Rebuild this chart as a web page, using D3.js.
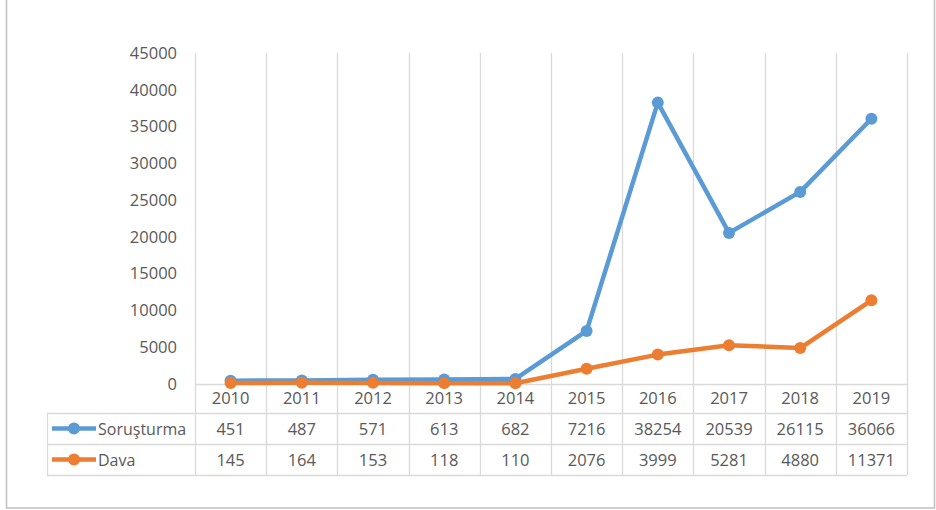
<!DOCTYPE html>
<html>
<head>
<meta charset="utf-8">
<script src="https://cdn.jsdelivr.net/npm/d3@7"></script>
<style>
  body { margin: 0; background: #fff; }
  svg text { font-family: "Open Sans", "Noto Sans", sans-serif; fill: #595959; }
</style>
</head>
<body>
<div id="chart"></div>
<script>
// data
var years = ["2010", "2011", "2012", "2013", "2014", "2015", "2016", "2017", "2018", "2019"];
var sorusturma = [451, 487, 571, 613, 682, 7216, 38254, 20539, 26115, 36066];
var dava = [145, 164, 153, 118, 110, 2076, 3999, 5281, 4880, 11371];
var seriesNames = ["Soruşturma", "Dava"];
var yTicks = [0, 5000, 10000, 15000, 20000, 25000, 30000, 35000, 40000, 45000];

var svgWidth = 936;
var svgHeight = 510;

// plot area
var plot = { left: 195, right: 907, top: 53, bottom: 384 };
var tableLeft = 47;
var rowH = 31;  // table rows
var fontSize = "16.5px";

var colors = ["#5B9BD5", "#ED7D31"];
var gridColor = "#d9d9d9";

var svg = d3.select("#chart")
  .append("svg")
  .attr("width", svgWidth)
  .attr("height", svgHeight);

// outer frame
svg.append("rect")
  .attr("x", 6.5)
  .attr("y", -5)
  .attr("width", 928)
  .attr("height", 513)
  .attr("fill", "none")
  .attr("stroke", "#bfbfbf")
  .attr("stroke-width", 1.5);

var x = d3.scaleBand()
  .domain(years)
  .range([plot.left, plot.right])
  .padding(0);

var y = d3.scaleLinear()
  .domain([0, 45000])
  .range([plot.bottom, plot.top]);

var tableTop = plot.bottom + 29;          // top of first data row
var tableBottom = tableTop + rowH * 2;

// vertical grid lines / table column separators
var bounds = years.map(function(d) { return x(d); }).concat([plot.right]);
svg.append("g")
  .selectAll("line")
  .data(bounds)
  .enter()
  .append("line")
  .attr("x1", d => Math.round(d) + 0.5)
  .attr("x2", d => Math.round(d) + 0.5)
  .attr("y1", plot.top)
  .attr("y2", tableBottom)
  .attr("stroke", gridColor)
  .attr("stroke-width", 1.3);

// left edge of the table
svg.append("line")
  .attr("x1", tableLeft + 0.5).attr("x2", tableLeft + 0.5)
  .attr("y1", tableTop).attr("y2", tableBottom)
  .attr("stroke", gridColor).attr("stroke-width", 1.3);

// x axis line
svg.append("line")
  .attr("x1", plot.left).attr("x2", plot.right)
  .attr("y1", y(0) + 0.5).attr("y2", y(0) + 0.5)
  .attr("stroke", gridColor).attr("stroke-width", 1.3);

// table horizontal lines
[0, 1, 2].forEach(function(i) {
  svg.append("line")
    .attr("x1", tableLeft).attr("x2", plot.right)
    .attr("y1", tableTop + i * rowH + 0.5).attr("y2", tableTop + i * rowH + 0.5)
    .attr("stroke", gridColor).attr("stroke-width", 1.3);
});

// y axis (labels only)
var yAxis = d3.axisLeft(y).tickValues(yTicks).tickFormat(d3.format("d")).tickSize(0).tickPadding(0);
var yAxisG = svg.append("g")
  .attr("transform", "translate(177,0)")
  .call(yAxis);
yAxisG.select(".domain").remove();
yAxisG.selectAll("text")
  .style("font-size", fontSize)
  .attr("fill", "#595959");

// year labels
svg.append("g")
  .selectAll("text")
  .data(years)
  .enter()
  .append("text")
  .attr("x", d => x(d) + x.bandwidth() / 2)
  .attr("y", plot.bottom + 20)
  .attr("text-anchor", "middle")
  .style("font-size", fontSize)
  .text(d => d);

// lines and markers
var line = d3.line()
  .x((d, i) => x(years[i]) + x.bandwidth() / 2)
  .y(d => y(d));

[sorusturma, dava].forEach(function(values, s) {
  svg.append("path")
    .datum(values)
    .attr("d", line)
    .attr("fill", "none")
    .attr("stroke", colors[s])
    .attr("stroke-width", 4.5)
    .attr("stroke-linejoin", "round");

  svg.append("g")
    .selectAll("circle")
    .data(values)
    .enter()
    .append("circle")
    .attr("cx", (d, i) => x(years[i]) + x.bandwidth() / 2)
    .attr("cy", d => y(d))
    .attr("r", 6)
    .attr("fill", colors[s]);
});

// table rows
[sorusturma, dava].forEach(function(values, s) {
  var cy = tableTop + rowH * s + rowH / 2;

  // legend key
  svg.append("line")
    .attr("x1", 52).attr("x2", 96)
    .attr("y1", cy).attr("y2", cy)
    .attr("stroke", colors[s])
    .attr("stroke-width", 4.5);
  svg.append("circle")
    .attr("cx", 74).attr("cy", cy).attr("r", 6)
    .attr("fill", colors[s]);
  svg.append("text")
    .attr("x", 98)
    .attr("y", cy + 6)
    .style("font-size", "16px")
    .text(seriesNames[s]);

  svg.append("g")
    .selectAll("text")
    .data(values)
    .enter()
    .append("text")
    .attr("x", (d, i) => x(years[i]) + x.bandwidth() / 2)
    .attr("y", cy + 6)
    .attr("text-anchor", "middle")
    .style("font-size", fontSize)
    .text(d => d);
});
</script>
</body>
</html>
